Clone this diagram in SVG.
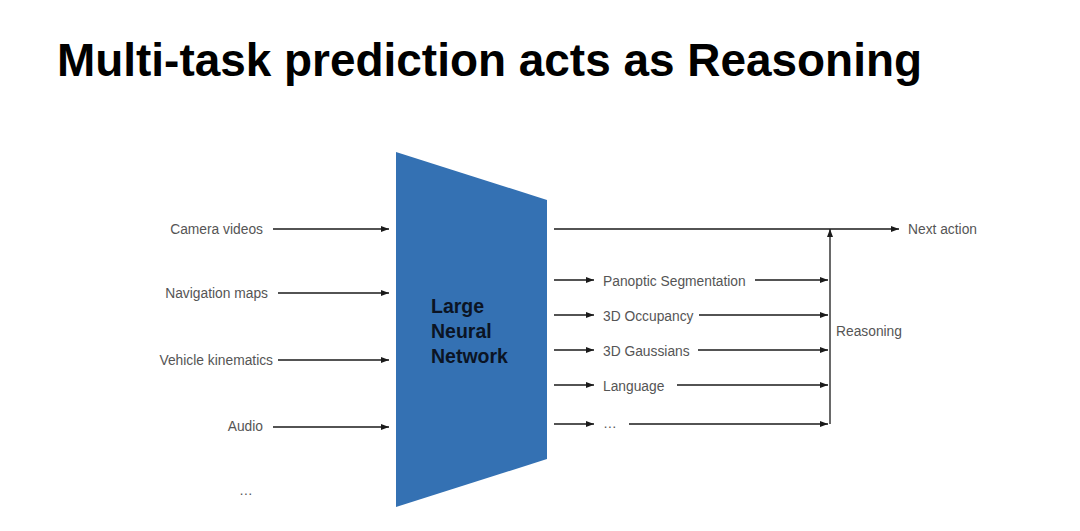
<svg xmlns="http://www.w3.org/2000/svg" width="1080" height="531" viewBox="0 0 1080 531">
<style>
.lbl{font-family:"Liberation Sans",Arial,sans-serif;font-size:13.8px;fill:#555}
.ln{stroke:#1a1a1a;stroke-width:1.3;fill:none}
.title{font-family:"Liberation Sans",Arial,sans-serif;font-weight:bold;font-size:46px;fill:#000}
.nn{font-family:"Liberation Sans",Arial,sans-serif;font-weight:bold;font-size:19.5px;fill:#0b1424}
</style>
<defs>
<marker id="ah" viewBox="0 0 8 6" refX="8" refY="3" markerWidth="8" markerHeight="6" markerUnits="userSpaceOnUse" orient="auto">
<path d="M0,0 L8,3 L0,6 z" fill="#1a1a1a"/>
</marker>
</defs>
<rect width="1080" height="531" fill="#fff"/>
<text class="title" x="57" y="76" textLength="865" lengthAdjust="spacingAndGlyphs">Multi-task prediction acts as Reasoning</text>
<g id="network">
<polygon points="396,152 547,200 547,459 396,507" fill="#3471b3"/>
<text class="nn" x="431" y="313">Large</text>
<text class="nn" x="431" y="338">Neural</text>
<text class="nn" x="431" y="363">Network</text>
</g>
<g id="inputs">
<text class="lbl" x="263" y="234" text-anchor="end">Camera videos</text>
<text class="lbl" x="268" y="298" text-anchor="end">Navigation maps</text>
<text class="lbl" x="273" y="365" text-anchor="end">Vehicle kinematics</text>
<text class="lbl" x="263" y="431" text-anchor="end">Audio</text>
<text class="lbl" x="246" y="495" text-anchor="middle">…</text>
</g>
<g id="outputs">
<text class="lbl" x="603" y="286">Panoptic Segmentation</text>
<text class="lbl" x="603" y="321">3D Occupancy</text>
<text class="lbl" x="603" y="356">3D Gaussians</text>
<text class="lbl" x="603" y="391">Language</text>
<text class="lbl" x="603" y="428">…</text>
<text class="lbl" x="836" y="336">Reasoning</text>
<text class="lbl" x="908" y="234">Next action</text>
</g>
<g id="connectors">
<line class="ln" x1="273" y1="229" x2="389" y2="229" marker-end="url(#ah)"/>
<line class="ln" x1="278" y1="293" x2="389" y2="293" marker-end="url(#ah)"/>
<line class="ln" x1="278" y1="360" x2="389" y2="360" marker-end="url(#ah)"/>
<line class="ln" x1="273" y1="427" x2="389" y2="427" marker-end="url(#ah)"/>
<line class="ln" x1="554" y1="229" x2="899" y2="229" marker-end="url(#ah)"/>
<line class="ln" x1="830" y1="424" x2="830" y2="229" marker-end="url(#ah)"/>
<line class="ln" x1="554" y1="280" x2="594" y2="280" marker-end="url(#ah)"/>
<line class="ln" x1="755" y1="280" x2="828" y2="280" marker-end="url(#ah)"/>
<line class="ln" x1="554" y1="315" x2="594" y2="315" marker-end="url(#ah)"/>
<line class="ln" x1="699" y1="315" x2="828" y2="315" marker-end="url(#ah)"/>
<line class="ln" x1="554" y1="350" x2="594" y2="350" marker-end="url(#ah)"/>
<line class="ln" x1="698" y1="350" x2="828" y2="350" marker-end="url(#ah)"/>
<line class="ln" x1="554" y1="385" x2="594" y2="385" marker-end="url(#ah)"/>
<line class="ln" x1="677" y1="385" x2="828" y2="385" marker-end="url(#ah)"/>
<line class="ln" x1="554" y1="424" x2="594" y2="424" marker-end="url(#ah)"/>
<line class="ln" x1="629" y1="424" x2="828" y2="424" marker-end="url(#ah)"/>
</g>
</svg>
